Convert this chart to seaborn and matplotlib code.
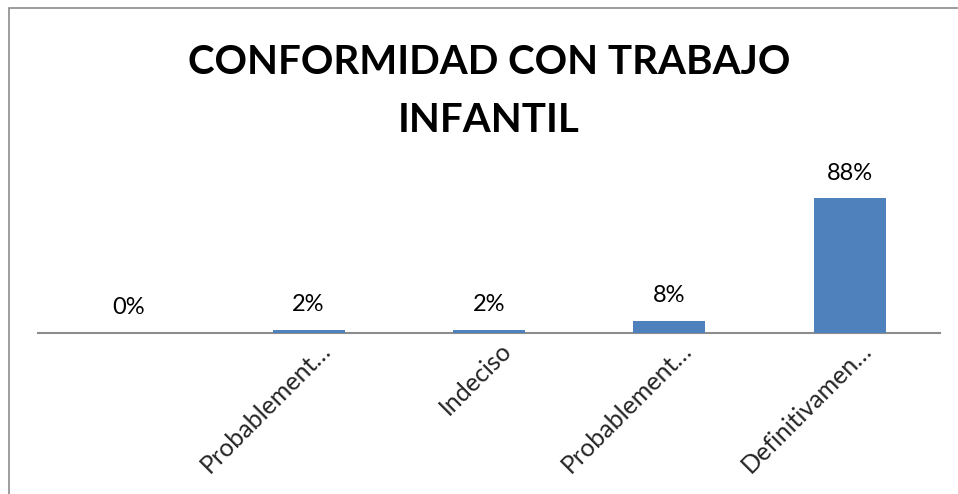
import matplotlib
matplotlib.use("Agg")
import matplotlib.pyplot as plt
import matplotlib.transforms as mtransforms
import seaborn as sns
import pandas as pd
from matplotlib.patches import Rectangle

categories = ["Definitivamente no", "Probablemente no", "Indeciso", "Probablemente sí", "Definitivamente sí"]
tick_labels = ["", "Probablement…", "Indeciso", "Probablement…", "Definitivamen…"]
values = [0.00, 0.02, 0.02, 0.08, 0.88]
value_labels = ["0%", "2%", "2%", "8%", "88%"]

sns.set_theme(style="white")
plt.rcParams['font.family'] = ['Lato', 'DejaVu Sans']

df = pd.DataFrame({"cat": categories, "val": values})

fig = plt.figure(figsize=(9.58, 4.94), dpi=100)
fig.patches.append(Rectangle((9/958, -0.1), 1.2, 1 - 8/494 + 0.1, transform=fig.transFigure,
                             fill=False, edgecolor="#8c8c8c", linewidth=1.2))
ax = fig.add_axes([38/958, 1 - 333/494, (940-38)/958, (333-180)/494])
sns.barplot(data=df, x="cat", y="val", color="#4f81bd", width=0.4, saturation=1, ax=ax,
            zorder=3, linewidth=0)
ax.set_ylim(0, 1)
ax.set_xlim(-0.5, 4.5)
ax.set_xlabel("")
ax.set_ylabel("")
ax.set_yticks([])
for s in ["top", "right", "left"]:
    ax.spines[s].set_visible(False)
ax.spines["bottom"].set_color("#8c8c8c")
ax.spines["bottom"].set_linewidth(1.5)
ax.spines["bottom"].set_zorder(1)
ax.set_xticks(range(len(tick_labels)))
ax.set_xticklabels(tick_labels, rotation=45, ha="right", rotation_mode="anchor", fontsize=18)
ax.tick_params(axis="x", length=0, pad=4)
offset = mtransforms.ScaledTranslation(10/100, 0, fig.dpi_scale_trans)
for lbl in ax.get_xticklabels():
    lbl.set_transform(lbl.get_transform() + offset)

for i, (v, lab) in enumerate(zip(values, value_labels)):
    ax.annotate(lab, (i, v), xytext=(0, 25), textcoords="offset pixels",
                ha="center", va="center", fontsize=17, color="black")

fig.text(489/958, 1 - 62/494, "CONFORMIDAD CON TRABAJO", ha="center", va="center",
         fontsize=29, fontweight="bold", color="black")
fig.text(489/958, 1 - 120/494, "INFANTIL", ha="center", va="center",
         fontsize=29, fontweight="bold", color="black")

fig.savefig("out.png", dpi=100)
